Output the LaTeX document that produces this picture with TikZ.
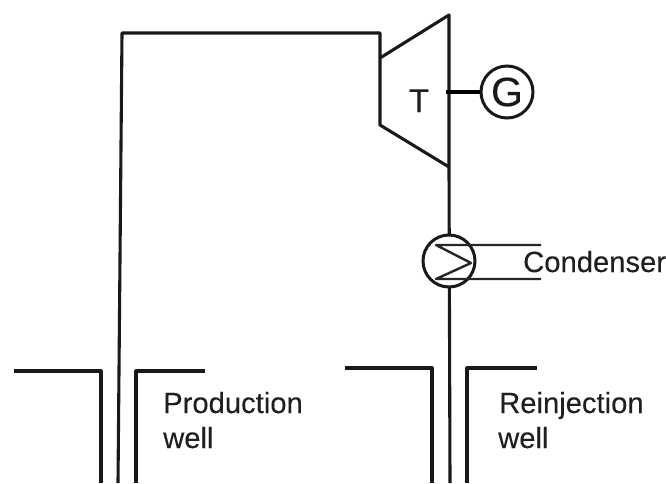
\documentclass[tikz,border=0pt]{standalone}
\usepackage{fontspec}
\setmainfont[FakeBold=0.15]{Liberation Sans}
\tikzset{
  pipe/.style={draw=black!90, line width=3.1pt, line join=round},
  thinpipe/.style={draw=black!85, line width=2.4pt, line join=round},
  shaft/.style={draw=black, line width=4.6pt},
  roundunit/.style={circle, draw=black!90, line width=3pt, minimum size=52pt, inner sep=0pt, fill=white},
  lbl/.style={anchor=base west, inner sep=0pt, font=\fontsize{29.2pt}{30pt}\selectfont, text=black!88},
}
\begin{document}
\begin{tikzpicture}[x=1pt,y=-1pt]
\useasboundingbox (0,0) rectangle (666,483);
% named points
\coordinate (pbot) at (118,483);
\coordinate (ptop) at (122,33);
\coordinate (tin) at (380,33);
\coordinate (tl1) at (380,58);
\coordinate (tr1) at (449,15);
\coordinate (tr2) at (449,167);
\coordinate (tl2) at (380,125);
\coordinate (rbot) at (450,483);
% pipes
\draw[pipe] (pbot) -- (ptop) -- (tin) -- (tl2) -- (tr2) -- (tr1) -- (tl1);
\draw[pipe] (tr2) -- (rbot);
% condenser
\node[roundunit] (cond) at (449,261) {};
\coordinate (ca) at (436,245);
\coordinate (cb) at (471,263);
\coordinate (cc) at (436,279);
\coordinate (cae) at (541,245);
\coordinate (cce) at (541,279);
\draw[thinpipe] (cae) -- (ca) -- (cb) -- (cc) -- (cce);
\node[lbl] (condl) at (523,272) {Condenser};
% generator
\node[roundunit] (gen) at (507,92) {};
\node[font=\fontsize{41pt}{41pt}\selectfont, text=black!90, inner sep=0pt] (gl) at (507,92) {G};
\coordinate (shaftin) at (446,92);
\draw[shaft] (shaftin) -- (gen.west);
\node[anchor=base, inner sep=0pt, font=\fontsize{33pt}{33pt}\selectfont, text=black!88] (tl) at (419,112) {T};
% wells
\coordinate (w1a) at (14,371);
\coordinate (w1b) at (101,371);
\coordinate (w1c) at (101,483);
\coordinate (w1d) at (136,483);
\coordinate (w1e) at (136,371);
\coordinate (w1f) at (205,371);
\draw[pipe] (w1a) -- (w1b) -- (w1c);
\draw[pipe] (w1d) -- (w1e) -- (w1f);
\coordinate (w2a) at (345,368);
\coordinate (w2b) at (432,368);
\coordinate (w2c) at (432,483);
\coordinate (w2d) at (467,483);
\coordinate (w2e) at (467,368);
\coordinate (w2f) at (537,368);
\draw[pipe] (w2a) -- (w2b) -- (w2c);
\draw[pipe] (w2d) -- (w2e) -- (w2f);
% labels
\node[lbl] (prod) at (163,413) {Production};
\node[lbl] (well1) at (163,448) {well};
\node[lbl] (rein) at (499,413) {Reinjection};
\node[lbl] (well2) at (498,448) {well};
\end{tikzpicture}
\end{document}
